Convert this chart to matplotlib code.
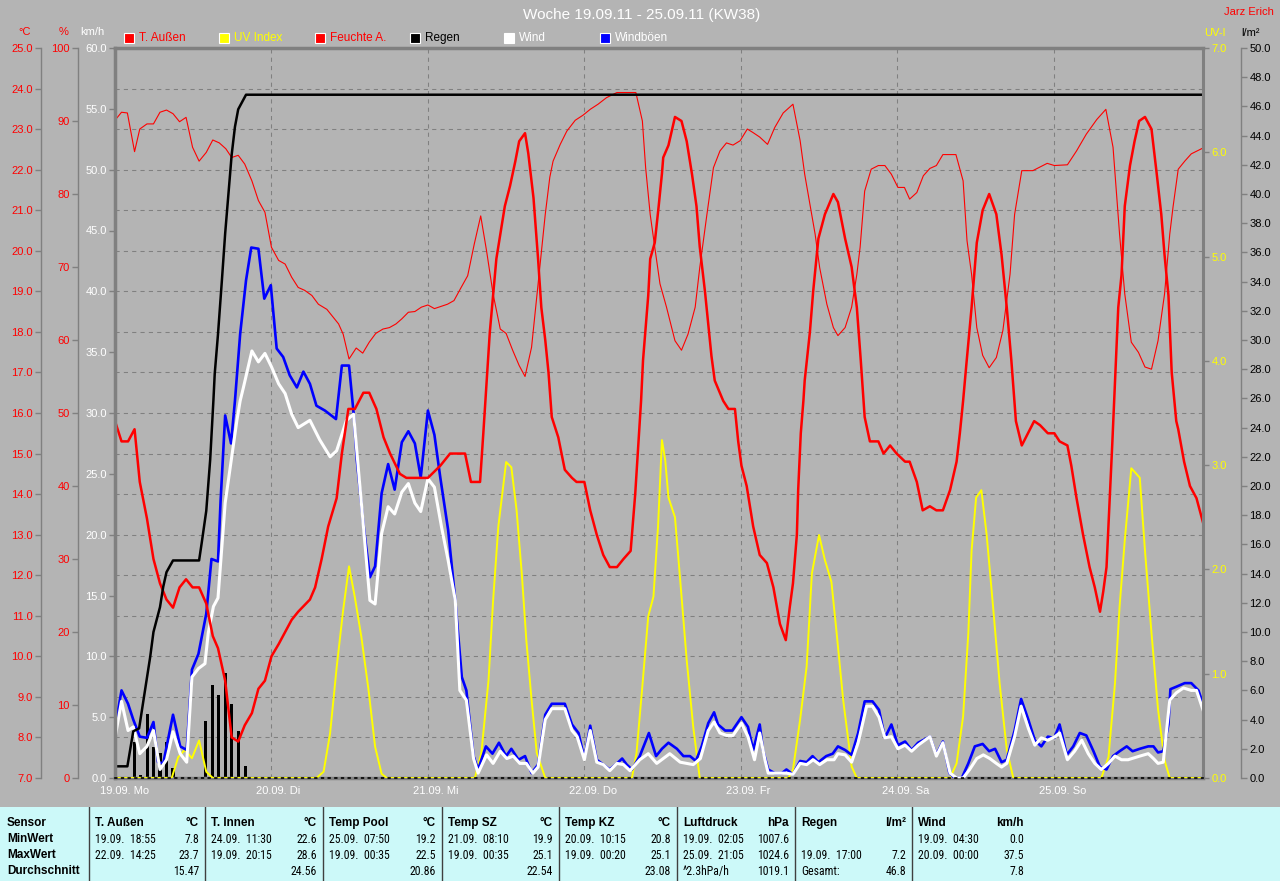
import numpy as np
import matplotlib
matplotlib.use("Agg")
import matplotlib.pyplot as plt
from matplotlib import font_manager
from matplotlib.patches import Rectangle
from matplotlib.ticker import FormatStrFormatter
from matplotlib.transforms import blended_transform_factory, offset_copy

plt.rcParams["font.family"] = ["Liberation Sans", "DejaVu Sans"]

BG = "#b4b4b4"
GRID = "#808080"
CYAN = "#ccf9f9"
RED = "#ff0000"
YELLOW = "#ffff00"
BLUE = "#0000ff"

# ---- chart data (time in hours since 19.09. 00:00) ----
day_labels = ["19.09. Mo", "20.09. Di", "21.09. Mi", "22.09. Do", "23.09. Fr", "24.09. Sa", "25.09. So"]
day_hours = [0, 24, 48, 72, 96, 120, 144]
end_hour = 166.9

temp_out = [(0.0, 15.8), (1.0, 15.3), (2.0, 15.3), (3.0, 15.6), (3.8, 14.3), (4.9, 13.4), (5.9, 12.4),
            (6.9, 11.8), (7.9, 11.4), (8.9, 11.2), (9.9, 11.7), (10.9, 11.9), (11.9, 11.7), (12.9, 11.7),
            (14.0, 11.3), (15.0, 10.5), (15.8, 10.2), (16.9, 9.4), (17.9, 8.0), (18.9, 7.9), (19.9, 8.3),
            (21.0, 8.6), (22.0, 9.2), (23.0, 9.4), (24.0, 10.0), (25.1, 10.3), (26.1, 10.6), (27.1, 10.9),
            (28.1, 11.1), (29.9, 11.4), (30.7, 11.7), (31.7, 12.4), (32.7, 13.2), (34.0, 13.9), (34.8, 15.0),
            (35.8, 16.1), (36.8, 16.1), (38.1, 16.5), (39.0, 16.5), (40.1, 16.1), (41.2, 15.4), (42.2, 15.0),
            (43.7, 14.5), (44.7, 14.4), (46.8, 14.4), (48.0, 14.4), (49.9, 14.7), (51.4, 15.0), (52.4, 15.0),
            (53.7, 15.0), (54.6, 14.3), (56.0, 14.3), (56.5, 15.5), (57.5, 18.0), (58.5, 19.8), (59.1, 20.4),
            (59.8, 21.1), (60.6, 21.6), (61.4, 22.2), (62.0, 22.7), (62.9, 22.9), (63.4, 22.4), (64.2, 21.3),
            (64.9, 19.8), (65.4, 18.6), (66.0, 17.8), (66.5, 17.0), (67.0, 15.9), (68.0, 15.4), (69.0, 14.6),
            (70.1, 14.4), (70.8, 14.3), (72.0, 14.3), (72.9, 13.6), (73.9, 13.0), (74.9, 12.5), (75.9, 12.2),
            (77.0, 12.2), (78.0, 12.4), (79.1, 12.6), (79.3, 13.0), (79.8, 14.0), (80.3, 15.3), (80.7, 16.3),
            (81.0, 17.3), (81.8, 18.9), (82.1, 19.8), (82.8, 20.2), (83.4, 21.1), (83.9, 21.9), (84.1, 22.3),
            (84.9, 22.6), (85.9, 23.3), (86.9, 23.2), (87.7, 22.7), (88.5, 21.9), (89.2, 21.1), (89.7, 20.1),
            (90.5, 19.0), (91.0, 18.2), (91.5, 17.4), (92.0, 16.8), (93.3, 16.3), (94.1, 16.1), (95.1, 16.1),
            (95.6, 15.3), (96.1, 14.7), (96.9, 14.2), (97.9, 13.2), (98.9, 12.5), (100.0, 12.3), (101.0, 11.7),
            (102.0, 10.8), (102.9, 10.4), (103.5, 11.2), (104.0, 11.8), (104.6, 13.0), (104.8, 14.1),
            (105.2, 15.5), (105.6, 16.3), (105.8, 16.8), (106.6, 18.0), (107.1, 19.0), (107.9, 20.3),
            (108.9, 20.9), (110.2, 21.4), (110.9, 21.2), (112.0, 20.3), (113.0, 19.6), (113.8, 18.6),
            (114.4, 17.3), (115.0, 15.9), (115.8, 15.3), (117.1, 15.3), (117.9, 15.0), (118.9, 15.2),
            (119.9, 15.0), (121.2, 14.8), (121.9, 14.8), (123.0, 14.3), (123.9, 13.6), (125.0, 13.7),
            (126.0, 13.6), (127.0, 13.6), (128.1, 14.1), (129.1, 14.8), (129.6, 15.5), (130.1, 16.3),
            (130.6, 17.2), (131.4, 18.6), (132.2, 20.2), (133.1, 21.0), (134.1, 21.4), (135.2, 20.9),
            (136.0, 19.9), (136.8, 18.6), (137.5, 17.3), (138.2, 15.8), (139.1, 15.2), (141.0, 15.8),
            (141.9, 15.7), (143.1, 15.5), (144.1, 15.5), (144.9, 15.3), (146.1, 15.2), (146.7, 14.7),
            (147.5, 13.9), (148.5, 13.0), (149.5, 12.2), (150.3, 11.7), (151.1, 11.1), (151.6, 11.6),
            (152.1, 12.2), (152.6, 13.9), (153.0, 15.3), (153.5, 17.1), (153.9, 18.6), (154.4, 19.4),
            (154.9, 21.1), (155.7, 22.1), (156.4, 22.7), (157.1, 23.2), (158.0, 23.3), (159.0, 23.0),
            (159.8, 21.9), (160.5, 20.9), (161.0, 19.9), (161.6, 18.9), (162.1, 17.0), (162.8, 15.8),
            (163.1, 15.6), (164.0, 14.8), (164.9, 14.2), (165.9, 13.9), (166.9, 13.3)]

humidity = [(0.0, 90.1), (1.0, 91.2), (1.9, 91.1), (3.0, 85.8), (3.8, 88.9), (4.9, 89.6), (5.9, 89.6),
            (6.9, 91.2), (7.9, 91.5), (8.9, 91.0), (9.9, 89.9), (10.9, 90.5), (11.9, 86.4), (12.9, 84.5),
            (14.0, 85.7), (15.0, 87.4), (16.0, 87.0), (17.0, 86.2), (17.9, 85.0), (18.9, 85.3), (19.9, 84.1),
            (21.0, 81.8), (22.0, 79.1), (23.0, 77.5), (24.0, 72.7), (25.1, 70.9), (26.1, 70.4), (27.1, 68.6),
            (28.1, 67.2), (29.1, 66.8), (30.2, 66.1), (31.2, 64.9), (32.5, 64.2), (33.5, 63.1), (34.3, 62.2),
            (35.0, 60.8), (35.9, 57.4), (37.0, 58.9), (38.0, 58.2), (39.0, 59.7), (40.0, 60.9), (41.1, 61.5),
            (42.1, 61.7), (43.1, 62.2), (44.0, 62.9), (45.0, 63.8), (46.0, 63.9), (47.0, 64.5), (48.0, 64.8),
            (49.0, 64.3), (50.0, 64.6), (51.0, 64.9), (52.0, 65.4), (53.1, 67.2), (54.1, 68.8), (55.1, 73.1),
            (56.1, 77.0), (57.0, 72.2), (58.0, 66.3), (59.1, 61.5), (60.0, 60.9), (61.0, 58.6), (62.0, 56.5),
            (62.9, 55.0), (63.9, 59.0), (64.9, 67.7), (66.0, 77.2), (66.7, 82.3), (67.2, 84.5), (68.3, 86.8),
            (69.3, 88.6), (70.6, 90.1), (71.8, 90.8), (72.9, 91.6), (74.1, 92.3), (75.4, 93.2), (77.0, 93.9),
            (79.9, 93.9), (80.9, 90.0), (81.4, 83.6), (82.1, 77.2), (82.8, 72.7), (83.6, 67.7), (84.6, 64.5),
            (85.9, 59.9), (86.9, 58.6), (87.9, 60.8), (89.0, 64.5), (89.7, 69.9), (90.8, 77.2), (91.8, 83.6),
            (92.8, 85.9), (93.8, 87.0), (94.8, 86.7), (95.9, 87.3), (97.0, 88.9), (97.9, 88.4), (98.9, 87.8),
            (100.1, 86.8), (101.2, 89.1), (102.5, 91.1), (104.0, 92.3), (105.1, 87.3), (105.8, 82.7),
            (106.6, 78.6), (107.4, 74.5), (108.1, 69.9), (109.2, 64.9), (110.2, 61.7), (110.9, 60.6),
            (112.0, 61.7), (113.0, 64.5), (113.8, 69.0), (114.3, 72.7), (115.0, 80.4), (116.0, 83.4),
            (117.1, 83.9), (118.1, 83.9), (119.1, 82.7), (120.1, 80.9), (121.1, 80.9), (121.9, 79.3),
            (123.0, 80.2), (124.0, 82.5), (125.0, 83.5), (126.0, 83.9), (127.0, 85.4), (129.0, 85.4),
            (130.1, 81.8), (130.7, 73.6), (131.4, 69.0), (132.2, 61.7), (133.1, 57.9), (134.1, 56.2),
            (135.2, 57.6), (136.2, 61.3), (137.3, 69.0), (138.0, 77.2), (139.1, 83.2), (140.8, 83.2),
            (141.9, 83.7), (143.0, 84.2), (144.1, 83.9), (146.1, 84.0), (147.5, 85.9), (149.0, 88.2),
            (150.6, 90.2), (152.0, 91.6), (153.1, 86.4), (153.6, 80.4), (154.1, 74.5), (154.9, 66.3),
            (155.9, 59.7), (157.0, 58.3), (158.0, 56.3), (159.0, 56.0), (160.0, 59.9), (161.0, 66.3),
            (161.8, 74.5), (162.3, 78.2), (163.1, 83.4), (164.1, 84.5), (165.1, 85.5), (166.9, 86.3)]

gusts = [(0.0, 4.1), (1.0, 7.2), (2.0, 6.1), (2.8, 4.8), (3.8, 3.4), (4.9, 3.3), (5.9, 4.6), (6.6, 1.3),
         (7.4, 1.2), (8.9, 5.2), (10.0, 2.6), (11.0, 2.3), (11.8, 8.9), (12.8, 10.2), (14.0, 13.5),
         (14.8, 18.0), (15.8, 17.8), (16.2, 22.8), (16.9, 29.8), (17.8, 27.5), (18.4, 31.0), (19.2, 36.5),
         (20.1, 40.9), (20.9, 43.6), (22.0, 43.5), (22.9, 39.4), (23.9, 40.5), (24.8, 35.3), (25.8, 34.6),
         (26.8, 33.1), (27.9, 32.1), (28.9, 33.4), (29.9, 32.4), (30.9, 30.6), (32.2, 30.2), (33.9, 29.5),
         (34.8, 33.9), (35.9, 33.9), (36.6, 30.0), (37.1, 26.1), (38.1, 20.9), (39.1, 16.5), (39.9, 17.4),
         (40.9, 23.4), (41.9, 25.8), (42.9, 23.7), (44.0, 27.6), (45.0, 28.5), (46.0, 27.5), (46.9, 24.7),
         (48.0, 30.2), (49.0, 28.2), (49.9, 24.7), (51.1, 20.4), (52.2, 14.6), (53.2, 8.3), (53.9, 7.2),
         (55.0, 1.8), (55.7, 0.7), (56.9, 2.6), (57.9, 2.0), (58.9, 2.9), (60.0, 1.8), (60.8, 2.4),
         (61.9, 1.5), (62.9, 1.8), (63.9, 0.4), (64.9, 1.1), (66.0, 5.2), (67.0, 6.1), (69.0, 6.1),
         (70.1, 4.4), (71.1, 3.7), (72.0, 1.6), (72.9, 4.3), (73.9, 1.5), (74.9, 1.1), (75.9, 0.7),
         (77.0, 1.2), (77.8, 1.6), (78.5, 1.1), (79.3, 0.7), (80.5, 1.8), (81.9, 3.7), (83.0, 1.8),
         (83.9, 2.4), (84.9, 2.9), (86.2, 2.4), (87.2, 1.8), (88.2, 1.8), (89.1, 1.4), (90.0, 2.6),
         (91.0, 4.5), (91.9, 5.4), (92.5, 4.4), (93.6, 3.9), (94.7, 3.9), (96.1, 5.0), (97.1, 4.2),
         (97.9, 2.3), (98.9, 4.4), (99.4, 2.3), (100.2, 0.7), (101.2, 0.4), (102.3, 0.4), (103.0, 0.7),
         (104.0, 0.3), (105.1, 1.4), (106.1, 1.3), (107.0, 1.8), (107.9, 1.3), (109.1, 1.8), (110.1, 2.0),
         (110.9, 2.6), (112.0, 2.3), (113.0, 1.9), (114.0, 3.7), (115.0, 6.3), (116.2, 6.3), (117.2, 5.6),
         (118.1, 3.3), (119.1, 4.4), (120.1, 2.7), (121.2, 3.0), (122.2, 2.3), (123.2, 2.9), (125.0, 3.4),
         (126.0, 1.9), (127.0, 3.0), (128.0, 0.4), (128.8, 0.0), (129.9, 0.0), (130.9, 1.2), (131.9, 2.6),
         (133.1, 2.8), (134.1, 2.2), (135.0, 2.4), (136.0, 1.3), (136.8, 1.5), (138.0, 3.9), (139.0, 6.5),
         (140.1, 4.8), (141.1, 3.1), (142.1, 2.6), (143.1, 3.4), (144.1, 3.3), (144.9, 4.4), (146.0, 1.9),
         (147.0, 2.6), (148.0, 3.7), (149.0, 3.5), (150.1, 2.2), (151.1, 0.9), (152.1, 0.7), (153.1, 1.8),
         (154.1, 2.2), (155.2, 2.6), (156.1, 2.2), (157.2, 2.4), (158.5, 2.6), (159.3, 2.6), (160.0, 2.1),
         (160.8, 2.2), (161.6, 4.4), (161.9, 7.3), (162.8, 7.5), (164.1, 7.8), (165.1, 7.8), (166.2, 7.2),
         (166.9, 6.1)]

wind = [(0.0, 3.3), (1.0, 6.3), (2.0, 3.9), (2.8, 4.2), (3.8, 2.0), (4.9, 2.6), (5.9, 3.9), (6.9, 0.7),
        (7.9, 1.5), (8.9, 3.8), (10.0, 2.0), (11.0, 1.3), (11.8, 8.3), (12.8, 9.0), (13.8, 9.4), (14.3, 11.9),
        (15.1, 14.1), (15.8, 14.8), (16.9, 22.6), (17.9, 26.4), (18.7, 29.4), (19.2, 31.0), (19.7, 32.1),
        (21.0, 35.1), (22.0, 34.2), (23.0, 34.9), (24.0, 33.8), (25.1, 32.4), (26.1, 31.6), (27.1, 29.9),
        (28.1, 28.8), (29.9, 29.4), (31.4, 27.8), (33.0, 26.4), (34.0, 26.9), (35.5, 29.4), (36.6, 29.9),
        (37.3, 25.6), (38.3, 19.5), (39.1, 14.6), (39.9, 14.3), (40.9, 20.1), (41.9, 22.3), (42.9, 21.7),
        (44.0, 23.5), (45.0, 24.2), (46.0, 22.6), (46.9, 21.9), (48.0, 24.6), (49.0, 23.9), (50.1, 20.6),
        (51.1, 17.9), (52.2, 14.6), (52.9, 7.2), (53.9, 6.4), (55.0, 1.6), (55.7, 0.4), (57.0, 1.9),
        (58.0, 1.2), (59.1, 2.2), (60.1, 1.6), (61.1, 1.8), (62.1, 1.2), (63.1, 1.2), (64.1, 0.4),
        (64.9, 0.9), (66.0, 4.8), (67.0, 5.7), (69.0, 5.7), (70.1, 3.9), (70.9, 3.4), (72.0, 1.5),
        (72.9, 3.9), (73.9, 1.3), (74.9, 1.1), (75.9, 0.6), (77.0, 1.2), (78.0, 1.1), (79.0, 0.6),
        (80.5, 1.5), (81.8, 2.0), (83.1, 1.2), (85.1, 2.0), (86.7, 1.3), (88.7, 1.1), (89.8, 1.6),
        (91.0, 3.9), (91.9, 4.6), (92.8, 3.7), (93.8, 3.5), (94.8, 3.5), (96.1, 4.5), (97.1, 3.4),
        (98.1, 1.5), (98.9, 3.7), (99.7, 1.5), (100.2, 0.4), (103.0, 0.4), (104.0, 0.3), (105.1, 1.2),
        (106.1, 1.1), (107.1, 1.5), (108.1, 1.1), (109.2, 1.5), (110.3, 1.5), (110.9, 2.0), (112.0, 1.9),
        (113.0, 1.3), (114.0, 2.9), (115.3, 5.9), (116.2, 5.9), (117.2, 5.0), (118.1, 3.3), (119.1, 3.4),
        (120.1, 2.4), (121.2, 2.7), (122.2, 2.2), (123.2, 2.7), (125.0, 3.4), (126.0, 1.8), (127.0, 2.9),
        (128.1, 0.4), (129.1, 0.0), (130.1, 0.0), (131.1, 0.7), (132.2, 1.6), (133.2, 1.9), (134.2, 1.6),
        (135.2, 1.2), (136.0, 0.9), (136.8, 1.2), (138.0, 3.4), (139.0, 5.9), (140.1, 4.1), (141.1, 2.7),
        (142.1, 3.3), (143.1, 3.1), (144.2, 3.4), (144.9, 3.7), (146.1, 1.5), (147.2, 2.2), (148.3, 3.1),
        (149.3, 2.0), (150.3, 1.2), (151.3, 0.7), (152.4, 1.2), (153.4, 1.8), (154.4, 1.5), (155.4, 1.5),
        (157.2, 1.8), (158.5, 2.0), (159.3, 1.6), (160.0, 1.2), (160.8, 1.3), (161.8, 6.4), (162.8, 7.0),
        (163.9, 7.4), (165.1, 7.2), (165.9, 7.2), (166.9, 5.6)]

uv_index = [(0.0, 0), (8.7, 0), (9.7, 0.2), (10.7, 0.27), (11.8, 0.19), (12.9, 0.36), (14.0, 0.06), (15.0, 0),
            (30.9, 0), (32.0, 0.06), (33.0, 0.43), (34.0, 1.06), (35.0, 1.61), (35.9, 2.03), (36.8, 1.73),
            (37.8, 1.35), (38.9, 0.84), (39.9, 0.3), (40.9, 0.04), (41.7, 0),
            (55.2, 0), (56.2, 0.24), (57.3, 0.94), (58.0, 1.7), (58.8, 2.41), (60.0, 3.03), (60.8, 2.98),
            (61.6, 2.57), (62.4, 1.96), (63.1, 1.32), (63.9, 0.75), (64.7, 0.24), (66.0, 0),
            (79.3, 0), (80.0, 0.24), (80.8, 0.81), (81.8, 1.55), (82.6, 1.74), (83.3, 2.41), (83.9, 3.24),
            (84.4, 3.05), (84.9, 2.69), (85.9, 2.5), (86.7, 1.9), (87.7, 1.13), (88.7, 0.49), (89.7, 0),
            (103.3, 0), (104.0, 0.08), (105.1, 0.56), (106.1, 1.07), (106.9, 1.96), (108.0, 2.33),
            (108.9, 2.09), (109.9, 1.88), (110.7, 1.39), (111.7, 0.75), (113.0, 0.11), (113.8, 0),
            (128.1, 0), (129.1, 0.14), (130.1, 0.59), (130.9, 1.39), (131.4, 2.18), (132.1, 2.69),
            (132.9, 2.76), (133.7, 2.34), (134.7, 1.64), (135.7, 0.91), (136.8, 0.27), (137.8, 0),
            (151.3, 0), (152.4, 0.2), (153.4, 0.91), (154.1, 1.64), (154.9, 2.28), (155.9, 2.97),
            (157.2, 2.88), (158.0, 2.18), (159.0, 1.39), (160.0, 0.66), (161.0, 0.17), (161.8, 0), (166.9, 0)]

rain_total = [(0.0, 0.8), (1.9, 0.8), (2.8, 3.2), (3.7, 3.4), (4.6, 6.0), (5.4, 8.3), (5.9, 10.0),
              (6.9, 11.7), (7.4, 13.1), (7.9, 14.1), (8.9, 14.9), (12.9, 14.9), (13.3, 16.1), (14.0, 18.3),
              (14.6, 21.8), (15.1, 25.9), (15.3, 27.7), (15.8, 30.4), (16.4, 34.1), (16.9, 37.3),
              (17.4, 40.0), (17.9, 42.7), (18.4, 44.6), (18.9, 45.8), (20.1, 46.8), (166.9, 46.8)]

rain_hour = [3.0, 3.9, 5.0, 5.9, 6.9, 7.9, 8.9, 13.9, 14.9, 15.9, 16.9, 17.9, 18.9, 20.0]
rain_amount = [2.5, 0.2, 4.4, 2.1, 1.7, 2.5, 0.7, 3.9, 6.4, 5.7, 7.2, 5.1, 3.2, 0.8]

legend_labels = ["T. Außen", "UV Index", "Feuchte A.", "Regen", "Wind", "Windböen"]
legend_colors = [RED, YELLOW, RED, "black", "white", BLUE]
legend_text_colors = [RED, YELLOW, RED, "black", "white", "white"]

# ---- statistics table ----
row_titles = ["Sensor", "MinWert", "MaxWert", "Durchschnitt"]
sensors = ["T. Außen", "T. Innen", "Temp Pool", "Temp SZ", "Temp KZ", "Luftdruck", "Regen", "Wind"]
units = ["°C", "°C", "°C", "°C", "°C", "hPa", "l/m²", "km/h"]
min_when = ["19.09.  18:55", "24.09.  11:30", "25.09.  07:50", "21.09.  08:10", "20.09.  10:15",
            "19.09.  02:05", "", "19.09.  04:30"]
min_val = ["7.8", "22.6", "19.2", "19.9", "20.8", "1007.6", "", "0.0"]
max_when = ["22.09.  14:25", "19.09.  20:15", "19.09.  00:35", "19.09.  00:35", "19.09.  00:20",
            "25.09.  21:05", "19.09.  17:00", "20.09.  00:00"]
max_val = ["23.7", "28.6", "22.5", "25.1", "25.1", "1024.6", "7.2", "37.5"]
avg_note = ["", "", "", "", "", "^2.3hPa/h", "Gesamt:", ""]
avg_val = ["15.47", "24.56", "20.86", "22.54", "23.08", "1019.1", "46.8", "7.8"]


W_PX, H_PX, DPI = 1280, 881, 100


def fx(px):
    return px / W_PX


def fy(py):
    return 1 - py / H_PX


def pts(px):
    return px * 72 / DPI


def pick_narrow():
    # a condensed face fits the table best; plain Liberation Sans at a smaller size otherwise
    for name in ("Liberation Sans Narrow", "Roboto Condensed", "DejaVu Sans Condensed"):
        try:
            font_manager.findfont(name, fallback_to_default=False)
            return [name, "DejaVu Sans"], 8.5
        except ValueError:
            pass
    return ["Liberation Sans", "DejaVu Sans"], 7.4


NARROW, TABLE_SIZE = pick_narrow()

fig = plt.figure(figsize=(W_PX / DPI, H_PX / DPI), dpi=DPI, facecolor=BG)

# main axes carries the °C scale, the grid and all data lines
ax = fig.add_axes([fx(115), fy(778), fx(1203) - fx(115), fy(48) - fy(778)])
ax.set_facecolor(BG)


def side_axis(side, offset_px, lim, step, fmt, color):
    a = ax.twinx()
    a.set_ylim(*lim)
    for s in a.spines.values():
        s.set_visible(False)
    sp = a.spines[side]
    sp.set_visible(True)
    sp.set_position(("outward", pts(offset_px)))
    sp.set_color(GRID)
    sp.set_linewidth(1.0)
    if side == "left":
        a.yaxis.tick_left()
    else:
        a.yaxis.tick_right()
    a.set_yticks(np.arange(lim[0], lim[1] + step / 2, step))
    a.yaxis.set_major_formatter(FormatStrFormatter(fmt))
    a.tick_params(axis="y", colors=GRID, labelcolor=color, length=4, width=1, labelsize=8, pad=2)
    a.tick_params(axis="x", bottom=False, labelbottom=False)
    return a


ax_p = side_axis("left", 37, (0, 100), 10, "%d", RED)
ax_k = side_axis("left", 0, (0, 60), 5, "%.1f", "white")
ax_uv = side_axis("right", 0, (0, 7), 1, "%.1f", YELLOW)
ax_r = side_axis("right", 38, (0, 50), 2, "%.1f", "black")

ax_k.spines["left"].set_linewidth(2.5)
ax_uv.spines["right"].set_linewidth(2.2)
ax_r.spines["bottom"].set_visible(True)
ax_r.spines["bottom"].set_color("black")
ax_r.spines["bottom"].set_linewidth(1.2)
ax_r.spines["bottom"].set_linestyle((0, (1, 3)))

# °C scale on the outermost left spine
ax.set_ylim(7, 25)
ax.set_xlim(0, end_hour)
ax.set_yticks(np.arange(7, 25.5, 1))
ax.yaxis.set_major_formatter(FormatStrFormatter("%.1f"))
ax.tick_params(axis="y", colors=GRID, labelcolor=RED, length=4, width=1, labelsize=8, pad=2)
ax.spines["left"].set_position(("outward", pts(74)))
ax.spines["left"].set_color(GRID)
ax.spines["left"].set_linewidth(1.0)
for name in ("top", "bottom"):
    ax.spines[name].set_color(GRID)
    ax.spines[name].set_linewidth(2.5)
ax.spines["right"].set_visible(False)
ax.set_xticks(day_hours)
ax.tick_params(axis="x", length=0, labelbottom=False)
ax.grid(True, color=GRID, linestyle=(0, (4, 4)), linewidth=0.75)
ax.set_axisbelow(True)


def split(series):
    xs, ys = zip(*series)
    return np.array(xs), np.array(ys)


ax.bar(rain_hour, rain_amount, width=0.5, color="black", transform=ax_r.transData, zorder=2)
h, v = split(uv_index)
ax.plot(h, v, color=YELLOW, lw=1.4, transform=ax_uv.transData, zorder=3)
h, v = split(gusts)
ax.plot(h, v, color=BLUE, lw=1.9, transform=ax_k.transData, zorder=4)
h, v = split(wind)
ax.plot(h, v, color="white", lw=2.2, transform=ax_k.transData, zorder=5)
h, v = split(humidity)
ax.plot(h, v, color=RED, lw=0.8, transform=ax_p.transData, zorder=6)
h, v = split(temp_out)
ax.plot(h, v, color=RED, lw=1.8, zorder=7)
h, v = split(rain_total)
ax.plot(h, v, color="black", lw=1.8, transform=ax_r.transData, zorder=8)

ax.set_xlim(0, end_hour)
ax.set_ylim(7, 25)

# day labels under the plot
lab_tr = offset_copy(blended_transform_factory(ax.transData, ax.transAxes), fig=fig, x=-15, y=-8, units="dots")
for d, lab in zip(day_hours, day_labels):
    ax.text(d, 0, lab, transform=lab_tr, ha="left", va="top", color="white", fontsize=8)

# titles and axis captions
fig.text(fx(642), fy(15), "Woche 19.09.11 - 25.09.11 (KW38)", color="white", fontsize=11, ha="center", va="center")
fig.text(fx(1249), fy(12), "Jarz Erich", color=RED, fontsize=8, ha="center", va="center")
fig.text(fx(25), fy(32), "°C", color=RED, fontsize=8, ha="center", va="center")
fig.text(fx(64), fy(32), "%", color=RED, fontsize=8, ha="center", va="center")
fig.text(fx(92), fy(32), "km/h", color="white", fontsize=8, ha="center", va="center")
fig.text(fx(1215), fy(33), "UV-I", color=YELLOW, fontsize=8, ha="center", va="center")
fig.text(fx(1251), fy(33), "l/m²", color="black", fontsize=8, ha="center", va="center")

# legend row
legend_x = [124, 219, 315, 410, 504, 600]
for x0, lab, col, tcol in zip(legend_x, legend_labels, legend_colors, legend_text_colors):
    fig.add_artist(Rectangle((fx(x0), fy(43)), fx(10), fy(33) - fy(43), transform=fig.transFigure,
                             facecolor=col, edgecolor="white", lw=0.8))
    fig.text(fx(x0 + 15), fy(38), lab, color=tcol, fontsize=8.5, ha="left", va="center")

# statistics table
ax_t = fig.add_axes([0, 0, 1, fy(807)])
ax_t.set_facecolor(CYAN)
ax_t.set_xlim(0, W_PX)
ax_t.set_ylim(H_PX, 807)
ax_t.set_xticks([])
ax_t.set_yticks([])
for s in ax_t.spines.values():
    s.set_visible(False)

col_edges = [89, 205, 323, 442, 559, 677, 795, 912, 1030]
row_y = [823, 839, 855, 871]
for x in col_edges[:-1]:
    ax_t.axvline(x, color="#404040", lw=1)
for y, t in zip(row_y, row_titles):
    ax_t.text(7, y, t, fontsize=8.5, fontweight="bold", va="center", ha="left")

for i in range(len(sensors)):
    left = col_edges[i] + 6
    right = col_edges[i + 1] - 6
    ax_t.text(left, row_y[0], sensors[i], fontsize=8.5, fontweight="bold", va="center", ha="left")
    ax_t.text(right, row_y[0], units[i], fontsize=8.5, fontweight="bold", va="center", ha="right")
    rows = [(min_when[i], min_val[i]), (max_when[i], max_val[i]), (avg_note[i], avg_val[i])]
    for y, (l_txt, r_txt) in zip(row_y[1:], rows):
        ax_t.text(left, y, l_txt, family=NARROW, fontsize=TABLE_SIZE, va="center", ha="left")
        ax_t.text(right, y, r_txt, family=NARROW, fontsize=TABLE_SIZE, va="center", ha="right")

fig.savefig("out.png", dpi=DPI, facecolor=BG)
